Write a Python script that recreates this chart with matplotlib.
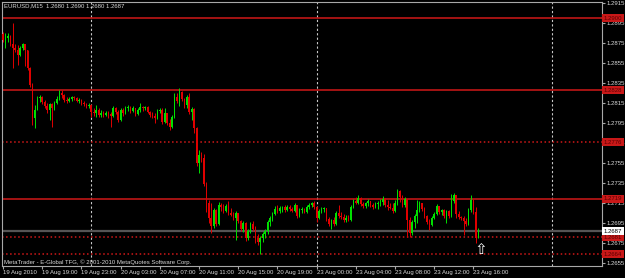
import matplotlib
matplotlib.use('Agg')
import matplotlib.pyplot as plt
import matplotlib.transforms as mtransforms

plt.rcParams['font.family'] = ['Liberation Sans', 'DejaVu Sans']

# EURUSD M15, 19 Aug 2010 15:00 .. 23 Aug 2010 16:30 (open = previous close)
first_open = 1.2884
closes = [
    1.2878, 1.2880, 1.2882, 1.2874, 1.2870, 1.2868, 1.2863, 1.2870, 1.2874, 1.2868, 1.2850, 1.2833, 1.2800, 1.2808, 1.2820, 1.2821,
    1.2816, 1.2812, 1.2808, 1.2814, 1.2810, 1.2815, 1.2819, 1.2825, 1.2823, 1.2818, 1.2817, 1.2819, 1.2821, 1.2820, 1.2817, 1.2818,
    1.2815, 1.2814, 1.2812, 1.2813, 1.2806, 1.2805, 1.2808, 1.2803, 1.2805, 1.2803, 1.2805, 1.2804, 1.2802, 1.2810, 1.2806, 1.2798,
    1.2808, 1.2805, 1.2810, 1.2811, 1.2807, 1.2810, 1.2804, 1.2808, 1.2811, 1.2810, 1.2811, 1.2806, 1.2803, 1.2802, 1.2800, 1.2807,
    1.2808, 1.2796, 1.2805, 1.2795, 1.2791, 1.2801, 1.2821, 1.2817, 1.2826, 1.2819, 1.2813, 1.2821, 1.2806, 1.2809, 1.2790, 1.2755,
    1.2763, 1.2760, 1.2734, 1.2715, 1.2700, 1.2692, 1.2708, 1.2694, 1.2713, 1.2711, 1.2707, 1.2712, 1.2705, 1.2703, 1.2700, 1.2705,
    1.2697, 1.2689, 1.2695, 1.2680, 1.2687, 1.2694, 1.2689, 1.2680, 1.2676, 1.2680, 1.2684, 1.2687, 1.2696, 1.2700, 1.2704, 1.2709,
    1.2707, 1.2710, 1.2711, 1.2708, 1.2711, 1.2709, 1.2707, 1.2713, 1.2702, 1.2708, 1.2709, 1.2706, 1.2711, 1.2713, 1.2715, 1.2711,
    1.2700, 1.2707, 1.2709, 1.2710, 1.2699, 1.2694, 1.2698, 1.2694, 1.2705, 1.2702, 1.2701, 1.2698, 1.2700, 1.2698, 1.2711, 1.2717,
    1.2715, 1.2720, 1.2714, 1.2712, 1.2715, 1.2717, 1.2713, 1.2711, 1.2714, 1.2715, 1.2716, 1.2719, 1.2713, 1.2711, 1.2710, 1.2707,
    1.2715, 1.2727, 1.2721, 1.2713, 1.2719, 1.2698, 1.2685, 1.2696, 1.2702, 1.2708, 1.2715, 1.2709, 1.2702, 1.2696, 1.2693, 1.2700,
    1.2704, 1.2712, 1.2706, 1.2708, 1.2702, 1.2707, 1.2702, 1.2717, 1.2723, 1.2704, 1.2701, 1.2700, 1.2697, 1.2694, 1.2708, 1.2718,
    1.2706, 1.2680, 1.2687,
]
highs = [
    1.2886, 1.2885, 1.2885, 1.2883, 1.2895, 1.2874, 1.2873, 1.2872, 1.2875, 1.2874, 1.2868, 1.2851, 1.2835, 1.2813, 1.2822, 1.2823,
    1.2822, 1.2818, 1.2815, 1.2815, 1.2815, 1.2817, 1.2822, 1.2828, 1.2828, 1.2824, 1.2821, 1.2821, 1.2822, 1.2822, 1.2821, 1.2820,
    1.2819, 1.2817, 1.2815, 1.2815, 1.2814, 1.2810, 1.2813, 1.2810, 1.2808, 1.2807, 1.2807, 1.2807, 1.2806, 1.2812, 1.2811, 1.2808,
    1.2810, 1.2810, 1.2812, 1.2813, 1.2812, 1.2812, 1.2810, 1.2810, 1.2815, 1.2812, 1.2812, 1.2812, 1.2807, 1.2806, 1.2805, 1.2809,
    1.2810, 1.2810, 1.2810, 1.2805, 1.2799, 1.2803, 1.2825, 1.2825, 1.2830, 1.2827, 1.2820, 1.2823, 1.2825, 1.2811, 1.2810, 1.2791,
    1.2768, 1.2766, 1.2764, 1.2736, 1.2718, 1.2715, 1.2710, 1.2709, 1.2716, 1.2715, 1.2714, 1.2714, 1.2717, 1.2710, 1.2706, 1.2707,
    1.2705, 1.2698, 1.2697, 1.2696, 1.2689, 1.2696, 1.2697, 1.2692, 1.2684, 1.2682, 1.2686, 1.2689, 1.2698, 1.2702, 1.2706, 1.2712,
    1.2713, 1.2712, 1.2712, 1.2713, 1.2713, 1.2713, 1.2711, 1.2715, 1.2713, 1.2710, 1.2711, 1.2710, 1.2713, 1.2715, 1.2716, 1.2717,
    1.2712, 1.2709, 1.2711, 1.2711, 1.2710, 1.2701, 1.2699, 1.2701, 1.2707, 1.2713, 1.2706, 1.2704, 1.2703, 1.2703, 1.2713, 1.2719,
    1.2721, 1.2723, 1.2721, 1.2716, 1.2716, 1.2719, 1.2717, 1.2715, 1.2716, 1.2717, 1.2719, 1.2722, 1.2720, 1.2718, 1.2715, 1.2715,
    1.2718, 1.2729, 1.2728, 1.2723, 1.2721, 1.2719, 1.2701, 1.2698, 1.2704, 1.2718, 1.2717, 1.2714, 1.2711, 1.2703, 1.2699, 1.2702,
    1.2706, 1.2714, 1.2712, 1.2709, 1.2709, 1.2708, 1.2708, 1.2724, 1.2725, 1.2723, 1.2707, 1.2702, 1.2702, 1.2700, 1.2710, 1.2723,
    1.2719, 1.2711, 1.2690,
]
lows = [
    1.2876, 1.2870, 1.2876, 1.2872, 1.2850, 1.2866, 1.2853, 1.2862, 1.2868, 1.2852, 1.2848, 1.2831, 1.2793, 1.2790, 1.2808, 1.2816,
    1.2814, 1.2810, 1.2805, 1.2798, 1.2791, 1.2808, 1.2814, 1.2818, 1.2820, 1.2816, 1.2815, 1.2816, 1.2817, 1.2818, 1.2816, 1.2815,
    1.2813, 1.2812, 1.2810, 1.2810, 1.2801, 1.2802, 1.2801, 1.2801, 1.2801, 1.2801, 1.2802, 1.2800, 1.2791, 1.2801, 1.2804, 1.2796,
    1.2797, 1.2802, 1.2804, 1.2807, 1.2805, 1.2806, 1.2802, 1.2803, 1.2806, 1.2807, 1.2808, 1.2805, 1.2801, 1.2800, 1.2795, 1.2799,
    1.2805, 1.2794, 1.2795, 1.2793, 1.2788, 1.2790, 1.2800, 1.2815, 1.2812, 1.2817, 1.2810, 1.2810, 1.2804, 1.2798, 1.2785, 1.2752,
    1.2745, 1.2756, 1.2732, 1.2706, 1.2695, 1.2685, 1.2690, 1.2692, 1.2693, 1.2707, 1.2705, 1.2706, 1.2703, 1.2702, 1.2698, 1.2678,
    1.2695, 1.2687, 1.2686, 1.2677, 1.2678, 1.2685, 1.2687, 1.2675, 1.2673, 1.2664, 1.2676, 1.2680, 1.2684, 1.2692, 1.2697, 1.2703,
    1.2705, 1.2705, 1.2706, 1.2706, 1.2707, 1.2707, 1.2706, 1.2706, 1.2700, 1.2701, 1.2705, 1.2705, 1.2705, 1.2709, 1.2711, 1.2709,
    1.2696, 1.2699, 1.2705, 1.2706, 1.2697, 1.2692, 1.2689, 1.2692, 1.2693, 1.2700, 1.2699, 1.2696, 1.2696, 1.2697, 1.2697, 1.2710,
    1.2714, 1.2714, 1.2712, 1.2710, 1.2710, 1.2712, 1.2711, 1.2709, 1.2710, 1.2709, 1.2712, 1.2713, 1.2711, 1.2708, 1.2709, 1.2705,
    1.2706, 1.2713, 1.2716, 1.2711, 1.2711, 1.2681, 1.2681, 1.2683, 1.2690, 1.2695, 1.2706, 1.2707, 1.2700, 1.2694, 1.2688, 1.2692,
    1.2699, 1.2703, 1.2704, 1.2703, 1.2700, 1.2695, 1.2700, 1.2701, 1.2715, 1.2700, 1.2699, 1.2698, 1.2683, 1.2692, 1.2693, 1.2706,
    1.2704, 1.2675, 1.2680,
]

# time axis labels every 16 bars (4 hours)
tick_bars = [0, 16, 32, 48, 64, 80, 96, 112, 128, 144, 160, 176, 192]
tick_labels = ['19 Aug 2010', '19 Aug 19:00', '19 Aug 23:00', '20 Aug 03:00', '20 Aug 07:00',
               '20 Aug 11:00', '20 Aug 15:00', '20 Aug 19:00', '23 Aug 00:00', '23 Aug 04:00',
               '23 Aug 08:00', '23 Aug 12:00', '23 Aug 16:00']
day_breaks = [36, 128, 224]
price_ticks = [1.2655, 1.2675, 1.2695, 1.2715, 1.2735, 1.2755, 1.2775, 1.2795,
               1.2815, 1.2835, 1.2855, 1.2875, 1.2895, 1.2915]
levels = [1.2900, 1.2828, 1.2776, 1.2719, 1.2681, 1.2664]
dotted_levels = [1.2776, 1.2681, 1.2664]
bid = 1.2687
arrow_bar, arrow_price = 195, 1.26685

n = len(closes)
opens = [first_open] + closes[:-1]
idx = list(range(n))

fig = plt.figure(figsize=(6.25, 2.78), dpi=100, facecolor='black')
ax = fig.add_axes([2 / 625, 12 / 278, 600 / 625, 264 / 278])
ax.set_facecolor('black')
ax.set_xlim(-0.41, 244.5)
ax.set_ylim(1.2652, 1.2916)

# day separators
for b in day_breaks:
    ax.axvline(b, color='#c8c8c8', lw=0.8, ls=(0, (2, 2)), zorder=1)

# support / resistance lines
for lv in levels:
    ls = ':' if lv in dotted_levels else '-'
    ax.axhline(lv, color='#d01818', lw=1.1, ls=ls, zorder=2)

# bid line
ax.axhline(bid, color='#555555', lw=1.6, zorder=2)

# candles
up = '#00e000'
down = '#e00000'
colors = [up if c >= o else down for o, c in zip(opens, closes)]
ax.vlines(idx, lows, highs, colors=colors, lw=0.7, zorder=3)
bottoms = [min(o, c) for o, c in zip(opens, closes)]
heights = [max(abs(c - o), 0.00005) for o, c in zip(opens, closes)]
ax.bar(idx, heights, bottom=bottoms, width=0.62, color=colors, linewidth=0, zorder=4)

# arrow under the last bar
ax.text(arrow_bar, arrow_price, '\u21e7', color='white', fontsize=11, ha='center', va='center',
        family='DejaVu Sans', zorder=5)

# axes styling
fs = 4.3
for s in ax.spines.values():
    s.set_color('#a8a8a8')
    s.set_linewidth(0.8)
ax.yaxis.tick_right()
ax.set_yticks(price_ticks)
ax.set_yticklabels(['%.4f' % p for p in price_ticks])
ax.set_xticks(tick_bars)
ax.set_xticklabels(tick_labels)
for lbl in ax.get_xticklabels():
    lbl.set_ha('left')
ax.tick_params(axis='both', colors='#a8a8a8', labelcolor='#d8d8d8', labelsize=fs,
               length=2, width=0.8, pad=1)

# price tags on the right scale
tr = mtransforms.blended_transform_factory(ax.transAxes, ax.transData)
for lv in levels:
    ax.text(1.003, lv, '%.4f' % lv, transform=tr, fontsize=fs, color='#5a0000',
            ha='left', va='center', clip_on=False, zorder=6,
            bbox=dict(boxstyle='square,pad=0.3', fc='#c81818', ec='none'))
ax.text(1.003, bid, '%.4f' % bid, transform=tr, fontsize=fs, color='black',
        ha='left', va='center', clip_on=False, zorder=6,
        bbox=dict(boxstyle='square,pad=0.3', fc='white', ec='none'))

fig.text(4 / 625, 1 - 6 / 278, 'EURUSD,M15  1.2680 1.2690 1.2680 1.2687',
         color='#d8d8d8', fontsize=fs, ha='left', va='center')
fig.text(4 / 625, 1 - 262 / 278,
         'MetaTrader - E-Global TFG, \u00a9 2001-2010 MetaQuotes Software Corp.',
         color='#d8d8d8', fontsize=fs, ha='left', va='center')

fig.savefig('out.png', dpi=100, facecolor='black')
